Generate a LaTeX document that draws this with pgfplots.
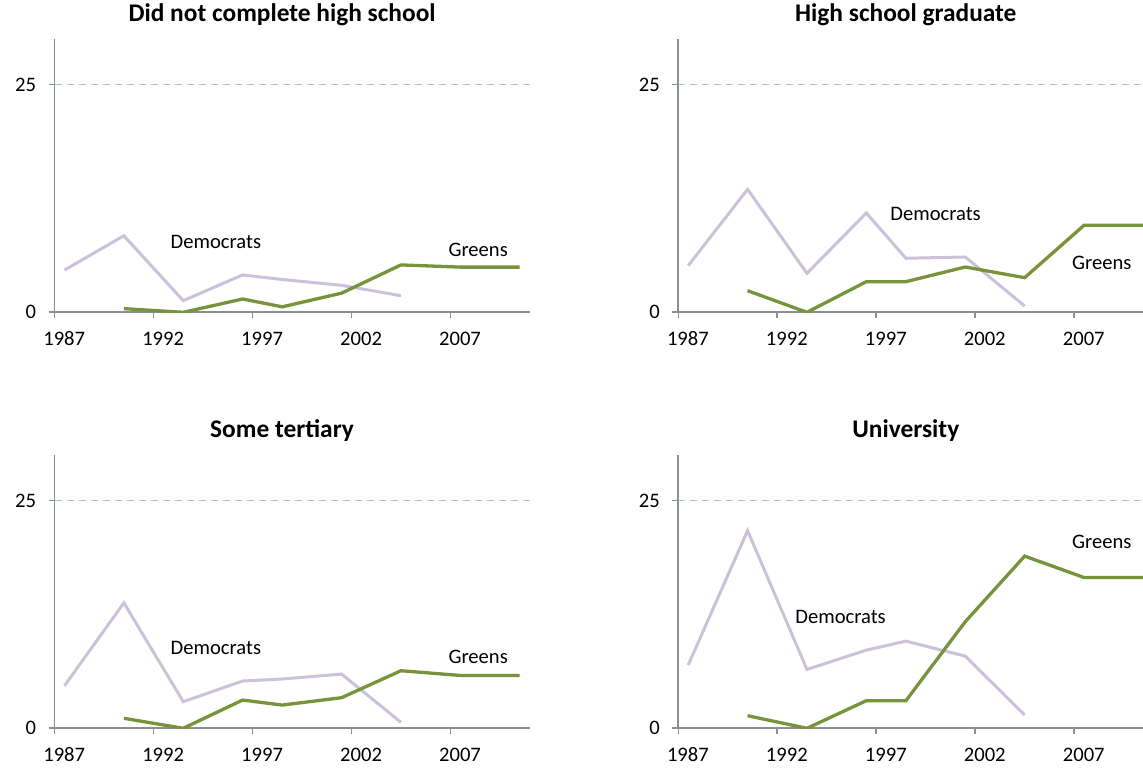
\documentclass[border=0pt]{standalone}
\usepackage{fontspec}
\setmainfont{Carlito}
\usepackage{pgfplots}
\pgfplotsset{compat=1.18}

\definecolor{demcol}{HTML}{CCC1DA}
\definecolor{grncol}{HTML}{77933C}
\definecolor{axgray}{HTML}{8E8E8E}
\definecolor{refline}{HTML}{A4BFEA}
\newcommand\cf{\fontsize{20.6}{25}\selectfont}
\newcommand\tf{\fontsize{25.4}{30}\selectfont}

\tikzset{lab/.style={font=\cf, anchor=center}}
\pgfplotsset{
  panel/.style={
    scale only axis, height=273.3pt, width=475pt,
    xmin=1987, xmax=2011, ymin=0, ymax=30,
    axis x line=bottom, axis y line=left,
    axis line style={-, axgray, line width=1.7pt},
    tick align=outside, major tick length=6pt,
    tick style={axgray, line width=1.6pt},
    xtick={1987,1992,...,2007}, ytick={0,25},
    /pgf/number format/1000 sep={},
    /pgf/number format/assume math mode=true,
    ticklabel style={font=\cf},
    xticklabel style={xshift=9.6pt, yshift=-10pt},
    yticklabel style={xshift=-9pt},
    title style={font=\tf\bfseries, anchor=base, at={(0.5,1)}, yshift=11pt, xshift=-10pt},
    anchor=south west,
  },
  demline/.style={demcol, line width=3pt, no markers},
  grnline/.style={grncol, line width=3.3pt, no markers},
  refl/.style={refline, line width=1.7pt, dash pattern=on 7pt off 5pt, no markers},
}

\begin{document}
\begin{tikzpicture}
\useasboundingbox (0,0) rectangle (1143pt,768pt);

% top left
\begin{axis}[panel, at={(54.6pt,455.7pt)}, title={Did not complete high school}]
  \addplot[refl] coordinates {(1987,25) (2011,25)};
  \addplot[demline] coordinates {(1987.5,4.64) (1990.5,8.4) (1993.5,1.28) (1996.5,4.1) (1998.5,3.6) (2001.5,2.96) (2004.5,1.82)};
  \addplot[grnline] coordinates {(1990.5,0.4) (1993.5,0) (1996.5,1.46) (1998.5,0.6) (2001.5,2.1) (2004.5,5.2) (2007.5,4.96) (2010.5,4.96)};
  \node[lab] at (axis cs:1995.15,7.75) {Democrats};
  \node[lab] at (axis cs:2008.4,6.9) {Greens};
\end{axis}

% top right
\begin{axis}[panel, at={(678.3pt,455.7pt)}, title={High school graduate}]
  \addplot[refl] coordinates {(1987,25) (2011,25)};
  \addplot[demline] coordinates {(1987.5,5.12) (1990.5,13.5) (1993.5,4.28) (1996.5,10.9) (1998.5,5.93) (2001.5,6.07) (2004.5,0.69)};
  \addplot[grnline] coordinates {(1990.5,2.37) (1993.5,0) (1996.5,3.36) (1998.5,3.36) (2001.5,4.97) (2004.5,3.8) (2007.5,9.55) (2010.5,9.55)};
  \node[lab] at (axis cs:2000.0,10.75) {Democrats};
  \node[lab] at (axis cs:2008.4,5.38) {Greens};
\end{axis}

% bottom left
\begin{axis}[panel, at={(54.6pt,39.7pt)}, title={Some tertiary}]
  \addplot[refl] coordinates {(1987,25) (2011,25)};
  \addplot[demline] coordinates {(1987.5,4.67) (1990.5,13.77) (1993.5,2.92) (1996.5,5.19) (1998.5,5.41) (2001.5,5.95) (2004.5,0.66)};
  \addplot[grnline] coordinates {(1990.5,1.1) (1993.5,0) (1996.5,3.1) (1998.5,2.55) (2001.5,3.36) (2004.5,6.32) (2007.5,5.8) (2010.5,5.8)};
  \node[lab] at (axis cs:1995.15,8.84) {Democrats};
  \node[lab] at (axis cs:2008.4,7.85) {Greens};
\end{axis}

% bottom right
\begin{axis}[panel, at={(678.3pt,39.7pt)}, title={University}]
  \addplot[refl] coordinates {(1987,25) (2011,25)};
  \addplot[demline] coordinates {(1987.5,6.94) (1990.5,21.7) (1993.5,6.46) (1996.5,8.58) (1998.5,9.57) (2001.5,7.92) (2004.5,1.46)};
  \addplot[grnline] coordinates {(1990.5,1.38) (1993.5,0) (1996.5,3.03) (1998.5,3.03) (2001.5,11.7) (2004.5,18.9) (2007.5,16.55) (2010.5,16.55)};
  \node[lab] at (axis cs:1995.2,12.24) {Democrats};
  \node[lab] at (axis cs:2008.4,20.46) {Greens};
\end{axis}
\end{tikzpicture}
\end{document}
